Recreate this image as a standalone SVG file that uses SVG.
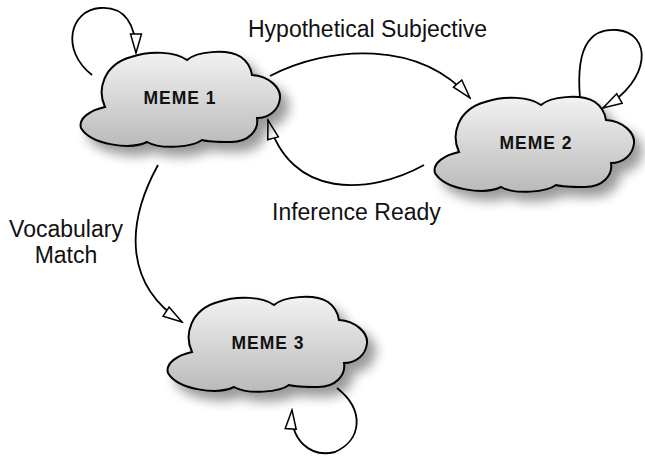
<svg xmlns="http://www.w3.org/2000/svg" width="645" height="459" viewBox="0 0 645 459">
<style>
.lbl{font-family:"Liberation Sans",Arial,sans-serif;font-size:23px;fill:#111}
.nt{font-family:"Liberation Sans",Arial,sans-serif;font-size:17.5px;font-weight:bold;fill:#111;letter-spacing:1px;text-anchor:middle}
.cloud{fill:url(#g);stroke:#000;stroke-width:2}
.edge{fill:none;stroke:#000;stroke-width:1.8}
.ah{fill:#fff;stroke:#000;stroke-width:1.5}
</style>
<defs>
<linearGradient id="g" x1="0" y1="0" x2="0" y2="1">
<stop offset="0" stop-color="#f2f2f2"/>
<stop offset="1" stop-color="#bababa"/>
</linearGradient>
<filter id="sh" x="-20%" y="-20%" width="150%" height="160%">
<feGaussianBlur in="SourceAlpha" stdDeviation="6"/>
<feOffset dx="8" dy="9" result="b"/>
<feComponentTransfer><feFuncA type="linear" slope="0.4"/></feComponentTransfer>
<feMerge><feMergeNode/><feMergeNode in="SourceGraphic"/></feMerge>
</filter>
<path id="cl" d="M -76,7 C -84,-10 -78,-35 -50,-43 C -30,-50 -5,-48 6,-40 C 15,-48 45,-52 60,-43 C 67,-38 70,-32 71,-25 C 88,-24 100,-12 99,-2 C 98,10 88,18 76,18 C 78,30 68,42 50,42 C 38,42 28,42 21,40 C 12,47 -20,50 -34,42 C -50,50 -90,45 -100,28 C -103,18 -90,10 -76,7 Z"/>
<marker id="ar" viewBox="0 0 22 14" refX="20" refY="7" markerWidth="22" markerHeight="14" markerUnits="userSpaceOnUse" orient="auto">
<path d="M1,1.5 L20,7 L1,12.5 Z" class="ah"/>
</marker>
</defs>
<g id="connectors">
<path class="edge" marker-end="url(#ar)" d="M 92,75 C 60,50 70,10 100,8 C 125,6 136,25 136,53"/>
<path class="edge" marker-end="url(#ar)" d="M 270,76 C 330,45 420,40 470,98"/>
<path class="edge" marker-end="url(#ar)" d="M 424,165 C 370,195 290,200 268,120"/>
<path class="edge" marker-end="url(#ar)" d="M 580,98 C 575,40 595,28 617,30 C 652,33 652,80 603,108"/>
<path class="edge" marker-end="url(#ar)" d="M 158,165 C 125,225 125,285 182,322"/>
<path class="edge" marker-end="url(#ar)" d="M 337,388 C 365,410 362,440 335,452 C 310,458 290,440 292,410"/>
</g>
<g id="meme1">
<use href="#cl" transform="translate(181,100)" class="cloud" filter="url(#sh)"/>
<text class="nt" x="180" y="104">MEME 1</text>
</g>
<g id="meme2">
<use href="#cl" transform="translate(535,145)" class="cloud" filter="url(#sh)"/>
<text class="nt" x="536" y="149">MEME 2</text>
</g>
<g id="meme3">
<use href="#cl" transform="translate(268,345)" class="cloud" filter="url(#sh)"/>
<text class="nt" x="268" y="349">MEME 3</text>
</g>
<g id="labels">
<text class="lbl" x="248" y="37">Hypothetical Subjective</text>
<text class="lbl" x="272" y="220">Inference Ready</text>
<text class="lbl" x="66" y="237" text-anchor="middle">Vocabulary</text>
<text class="lbl" x="66" y="263" text-anchor="middle">Match</text>
</g>
</svg>
